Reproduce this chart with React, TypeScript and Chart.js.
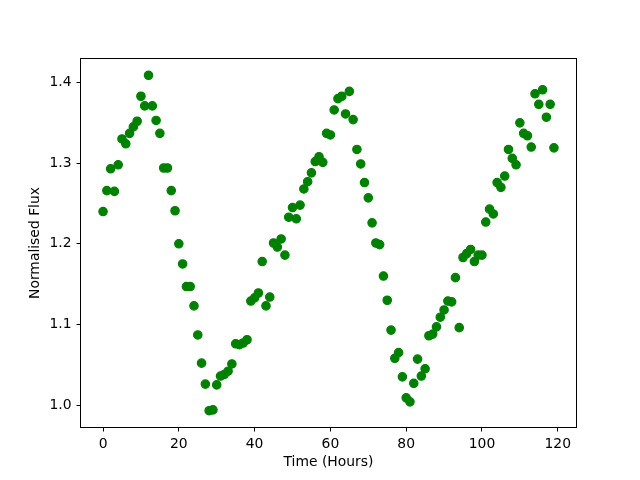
import React, { useEffect, useRef } from "react";
import { Chart, registerables } from "chart.js";

Chart.register(...registerables);

const hours: number[] = Array.from({ length: 120 }, (_, i) => i);

const flux: number[] = [
  1.240, 1.266, 1.293, 1.265, 1.298, 1.330, 1.324, 1.337, 1.345, 1.352,
  1.383, 1.371, 1.409, 1.371, 1.353, 1.337, 1.294, 1.294, 1.266, 1.241,
  1.200, 1.175, 1.147, 1.147, 1.123, 1.087, 1.052, 1.026, 0.993, 0.994,
  1.025, 1.036, 1.038, 1.042, 1.051, 1.076, 1.075, 1.077, 1.081, 1.129,
  1.133, 1.139, 1.178, 1.123, 1.134, 1.201, 1.196, 1.206, 1.186, 1.233,
  1.245, 1.231, 1.248, 1.268, 1.277, 1.288, 1.302, 1.308, 1.301, 1.337,
  1.335, 1.366, 1.380, 1.383, 1.361, 1.389, 1.354, 1.317, 1.299, 1.276,
  1.257, 1.226, 1.201, 1.199, 1.160, 1.130, 1.093, 1.058, 1.065, 1.035,
  1.009, 1.004, 1.027, 1.057, 1.036, 1.045, 1.086, 1.088, 1.097, 1.109,
  1.118, 1.129, 1.128, 1.158, 1.096, 1.183, 1.188, 1.193, 1.178, 1.186,
  1.186, 1.227, 1.243, 1.237, 1.276, 1.270, 1.284, 1.317, 1.306, 1.298,
  1.350, 1.337, 1.334, 1.320, 1.386, 1.373, 1.391, 1.357, 1.373, 1.319,
];

const xTicks: number[] = [0, 20, 40, 60, 80, 100, 120];
const yTicks: number[] = [1.0, 1.1, 1.2, 1.3, 1.4];

const xLabel = "Time (Hours)";
const yLabel = "Normalised Flux";

function marginRange(vals: number[]): [number, number] {
  const lo = Math.min(...vals);
  const hi = Math.max(...vals);
  const m = (hi - lo) * 0.05;
  return [lo - m, hi + m];
}

const frame = {
  id: "frame",
  afterDraw(chart: any) {
    const { left, top, right, bottom } = chart.chartArea;
    const ctx = chart.ctx;
    const l = Math.floor(left);
    const t = Math.floor(top);
    const r = Math.floor(right);
    const b = Math.floor(bottom);
    ctx.save();
    ctx.strokeStyle = "#000";
    ctx.lineWidth = 1;
    ctx.strokeRect(l + 0.5, t + 0.5, r - l, b - t);
    ctx.restore();
  },
};

export default function App() {
  const ref = useRef<HTMLCanvasElement>(null);
  useEffect(() => {
    if (!ref.current) return;
    const [xmin, xmax] = marginRange(hours);
    const [ymin, ymax] = marginRange(flux);
    const font = { family: "'DejaVu Sans', sans-serif", size: 13.9 };
    const chart = new Chart(ref.current, {
      type: "scatter",
      data: {
        datasets: [
          {
            data: hours.map((h, i) => ({ x: h, y: flux[i] })),
            backgroundColor: "#008000",
            borderColor: "#008000",
            borderWidth: 1.2,
            pointRadius: 4.2,
            pointHoverRadius: 4.2,
          },
        ],
      },
      options: {
        responsive: false,
        animation: false,
        devicePixelRatio: 1,
        layout: { padding: { left: 0, top: 58.5, right: 63.5, bottom: 0 } },
        plugins: { legend: { display: false }, tooltip: { enabled: false } },
        scales: {
          x: {
            type: "linear",
            min: xmin,
            max: xmax,
            afterBuildTicks: (s: any) => {
              s.ticks = xTicks.map((v) => ({ value: v }));
            },
            afterFit: (s: any) => {
              s.height = 52.5;
            },
            grid: { drawOnChartArea: false, drawTicks: true, tickLength: 4, tickColor: "#000" },
            border: { display: false },
            ticks: { color: "#000", font, padding: 5, maxRotation: 0, callback: (v: any) => String(v) },
            title: { display: true, text: xLabel, color: "#000", font, padding: { top: 0, bottom: 9 } },
          },
          y: {
            type: "linear",
            min: ymin,
            max: ymax,
            afterBuildTicks: (s: any) => {
              s.ticks = yTicks.map((v) => ({ value: v }));
            },
            afterFit: (s: any) => {
              s.width = 80.5;
            },
            grid: { drawOnChartArea: false, drawTicks: true, tickLength: 4, tickColor: "#000" },
            border: { display: false },
            ticks: { color: "#000", font, padding: 5, callback: (v: any) => Number(v).toFixed(1) },
            title: { display: true, text: yLabel, color: "#000", font, padding: { top: 27, bottom: 0 } },
          },
        },
      },
      plugins: [frame],
    });
    return () => chart.destroy();
  }, []);
  return (
    <div style={{ position: "absolute", left: 0, top: 0, width: 640, height: 480, background: "#fff" }}>
      <canvas ref={ref} width={640} height={480} style={{ display: "block" }} />
    </div>
  );
}
